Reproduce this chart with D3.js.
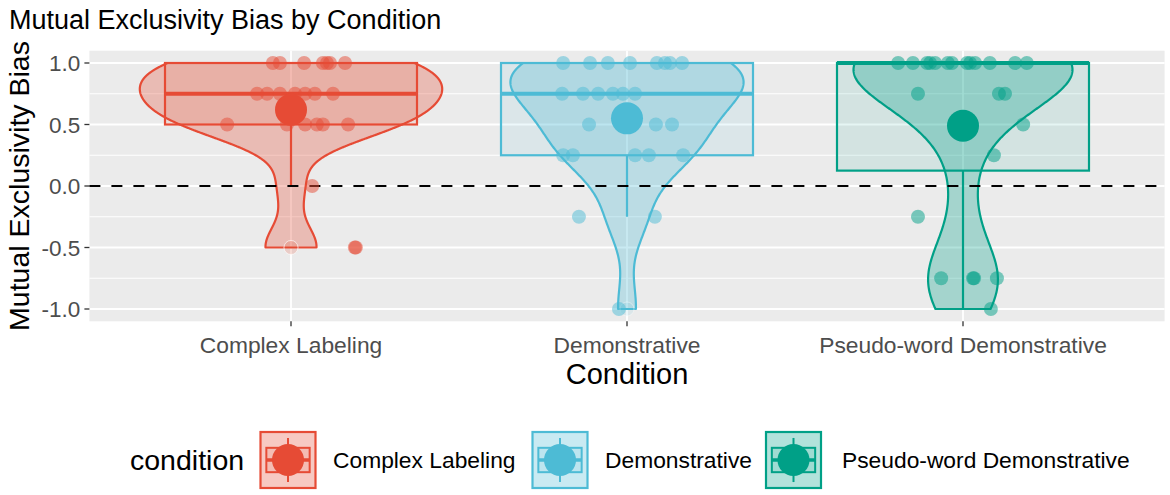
<!DOCTYPE html>
<html><head><meta charset="utf-8">
<script src="https://cdn.jsdelivr.net/npm/d3@7"></script>
<style>
body{margin:0;background:#fff}
svg{display:block}
text{font-family:"Liberation Sans",Arial,Helvetica,sans-serif}
</style>
</head><body>
<svg id="chart" width="1170" height="495"></svg>
<script>
// ---------- data ----------
const categories = ["Complex Labeling", "Demonstrative", "Pseudo-word Demonstrative"];
const colors = ["#E64B35", "#4DBBD5", "#00A087"];
const yTicks = [-1.0, -0.5, 0.0, 0.5, 1.0];
const yMinor = [-0.75, -0.25, 0.25, 0.75];

const complexValues = [1,1,1,1,1,1,1, 0.75,0.75,0.75,0.75,0.75,0.75,0.75, 0.5,0.5,0.5,0.5,0.5,0.5, 0, -0.5,-0.5];
const complexJitter = [-0.054,-0.033,0.039,0.095,0.107,0.116,0.161, -0.101,-0.071,-0.033,0.012,0.042,0.071,0.125, -0.190,-0.012,0.042,0.077,0.095,0.170, 0.063, 0.190,0.193];

const demoValues = [1,1,1,1,1,1,1,1, 0.75,0.75,0.75,0.75,0.75,0.75, 0.5,0.5,0.5, 0.25,0.25,0.25,0.25,0.25, -0.25,-0.25, -1];
const demoJitter = [-0.190,-0.110,-0.057,0.009,0.089,0.113,0.128,0.164, -0.193,-0.131,-0.086,-0.042,-0.012,0.024, -0.113,0.086,0.134, -0.190,-0.161,0.024,0.065,0.167, -0.143,0.083, -0.024];

const pseudoValues = [1,1,1,1,1,1,1,1,1,1,1,1,1, 0.75,0.75,0.75, 0.5, 0.25, -0.25, -0.75,-0.75,-0.75,-0.75, -1];
const pseudoJitter = [-0.193,-0.149,-0.107,-0.098,-0.083,-0.045,-0.033,0.012,0.021,0.036,0.080,0.155,0.190, -0.134,0.107,0.125, 0.179, 0.092, -0.134, -0.065,0.030,0.033,0.101, 0.083];

const groups = [
  {name: categories[0], values: complexValues, jitter: complexJitter, color: colors[0]},
  {name: categories[1], values: demoValues, jitter: demoJitter, color: colors[1]},
  {name: categories[2], values: pseudoValues, jitter: pseudoJitter, color: colors[2]}
];

// ---------- layout ----------
const panel = {left: 89.4, right: 1164.6, top: 50.7, bottom: 321.3};
const svg = d3.select("#chart");

const x = d3.scalePoint().domain(categories).range([panel.left, panel.right]).padding(0.6);
const step = x.step();
const y = d3.scaleLinear().domain([-1.1, 1.1]).range([panel.bottom, panel.top]);

// ---------- stats ----------
function bwNrd0(v) {
  const s = v.slice().sort(d3.ascending);
  const hi = d3.deviation(s);
  const iqr = d3.quantile(s, 0.75) - d3.quantile(s, 0.25);
  let lo = Math.min(hi, iqr / 1.34);
  if (!lo) lo = hi || Math.abs(s[0]) || 1;
  return 0.9 * lo * Math.pow(s.length, -0.2);
}
function kde(v, bw, grid) {
  const n = v.length, c = 1 / (Math.sqrt(2 * Math.PI) * bw * n);
  return grid.map(t => [t, c * d3.sum(v, d => Math.exp(-0.5 * ((t - d) / bw) ** 2))]);
}
groups.forEach(g => {
  const s = g.values.slice().sort(d3.ascending);
  g.q1 = d3.quantile(s, 0.25);
  g.med = d3.quantile(s, 0.5);
  g.q3 = d3.quantile(s, 0.75);
  const iqr = g.q3 - g.q1;
  const lf = g.q1 - 1.5 * iqr, uf = g.q3 + 1.5 * iqr;
  g.wlo = d3.min(s.filter(d => d >= lf));
  g.whi = d3.max(s.filter(d => d <= uf));
  g.outliers = s.filter(d => d < lf || d > uf);
  g.mean = d3.mean(s);
  const lo = s[0], hi = s[s.length - 1];
  const grid = d3.range(512).map(i => lo + (hi - lo) * i / 511);
  g.dens = kde(s, bwNrd0(s), grid);
});
const maxDens = d3.max(groups, g => d3.max(g.dens, d => d[1]));

// ---------- panel ----------
svg.append("rect").attr("x", panel.left).attr("y", panel.top)
  .attr("width", panel.right - panel.left).attr("height", panel.bottom - panel.top)
  .attr("fill", "#EBEBEB");
const grid = svg.append("g");
yMinor.forEach(v => grid.append("line").attr("x1", panel.left).attr("x2", panel.right)
  .attr("y1", y(v)).attr("y2", y(v)).attr("stroke", "#fff").attr("stroke-width", 1));
yTicks.forEach(v => grid.append("line").attr("x1", panel.left).attr("x2", panel.right)
  .attr("y1", y(v)).attr("y2", y(v)).attr("stroke", "#fff").attr("stroke-width", 1.8));
categories.forEach(c => grid.append("line").attr("x1", x(c)).attr("x2", x(c))
  .attr("y1", panel.top).attr("y2", panel.bottom).attr("stroke", "#fff").attr("stroke-width", 1.8));

// ---------- violins ----------
const halfMax = 0.45 * step;
groups.forEach(g => {
  const cx = x(g.name);
  const right = g.dens.map(d => [cx + d[1] / maxDens * halfMax, y(d[0])]);
  const left = g.dens.slice().reverse().map(d => [cx - d[1] / maxDens * halfMax, y(d[0])]);
  svg.append("path").attr("d", d3.line()(right.concat(left)) + "Z")
    .attr("fill", g.color).attr("fill-opacity", 0.3)
    .attr("stroke", g.color).attr("stroke-width", 2.2).attr("stroke-linejoin", "round");
});

// ---------- boxplots ----------
const boxHalf = 0.375 * step;
groups.forEach(g => {
  const cx = x(g.name);
  const b = svg.append("g");
  b.append("line").attr("x1", cx).attr("x2", cx).attr("y1", y(g.q3)).attr("y2", y(g.whi))
    .attr("stroke", g.color).attr("stroke-width", 2.2);
  b.append("line").attr("x1", cx).attr("x2", cx).attr("y1", y(g.q1)).attr("y2", y(g.wlo))
    .attr("stroke", g.color).attr("stroke-width", 2.2);
  b.append("rect").attr("x", cx - boxHalf).attr("width", 2 * boxHalf)
    .attr("y", y(g.q3)).attr("height", Math.max(0.01, y(g.q1) - y(g.q3)))
    .attr("fill", g.color).attr("fill-opacity", 0.1)
    .attr("stroke", g.color).attr("stroke-width", 2.2);
  b.append("line").attr("x1", cx - boxHalf).attr("x2", cx + boxHalf)
    .attr("y1", y(g.med)).attr("y2", y(g.med))
    .attr("stroke", g.color).attr("stroke-width", 4);
  g.outliers.forEach(o => b.append("circle").attr("cx", cx).attr("cy", y(o)).attr("r", 7)
    .attr("fill", g.color).attr("fill-opacity", 0.1)
    .attr("stroke", "#fff").attr("stroke-opacity", 0.5).attr("stroke-width", 0.8));
});

// ---------- reference line ----------
svg.append("line").attr("x1", panel.left).attr("x2", panel.right)
  .attr("y1", y(0)).attr("y2", y(0))
  .attr("stroke", "#000").attr("stroke-width", 2.2).attr("stroke-dasharray", "11,11");

// ---------- jittered points ----------
groups.forEach(g => {
  const cx = x(g.name);
  svg.append("g").selectAll("circle").data(g.values).join("circle")
    .attr("cx", (d, i) => cx + g.jitter[i] * step)
    .attr("cy", d => y(d))
    .attr("r", 7)
    .attr("fill", g.color).attr("fill-opacity", 0.5);
});

// ---------- mean points ----------
groups.forEach(g => {
  svg.append("circle").attr("cx", x(g.name)).attr("cy", y(g.mean)).attr("r", 16)
    .attr("fill", g.color);
});

// ---------- axes ----------
const yAxis = svg.append("g");
yTicks.forEach(v => {
  yAxis.append("line").attr("x1", panel.left - 5).attr("x2", panel.left)
    .attr("y1", y(v)).attr("y2", y(v)).attr("stroke", "#333").attr("stroke-width", 1.3);
  yAxis.append("text").attr("x", panel.left - 9).attr("y", y(v)).attr("dy", "0.36em")
    .attr("text-anchor", "end").attr("font-size", 22.5).attr("fill", "#4D4D4D")
    .text(d3.format(".1f")(v).replace("−", "-"));
});
const xAxis = svg.append("g");
categories.forEach(c => {
  xAxis.append("line").attr("x1", x(c)).attr("x2", x(c))
    .attr("y1", panel.bottom).attr("y2", panel.bottom + 5).attr("stroke", "#333").attr("stroke-width", 1.3);
  xAxis.append("text").attr("x", x(c)).attr("y", 353).attr("text-anchor", "middle")
    .attr("font-size", 22.8).attr("fill", "#4D4D4D").text(c);
});

svg.append("text").attr("x", x(categories[1])).attr("y", 384).attr("text-anchor", "middle")
  .attr("font-size", 29).attr("fill", "#000").text("Condition");
svg.append("text").attr("transform", `translate(29,${(panel.top + panel.bottom) / 2}) rotate(-90)`)
  .attr("text-anchor", "middle").attr("font-size", 28.5).attr("fill", "#000").text("Mutual Exclusivity Bias");
svg.append("text").attr("x", 9).attr("y", 29).attr("font-size", 27).attr("fill", "#000")
  .text("Mutual Exclusivity Bias by Condition");

// ---------- legend ----------
const legendY = 460;
svg.append("text").attr("x", 130).attr("y", legendY + 10).attr("font-size", 28.5).attr("fill", "#000").text("condition");
const keyX = [259.5, 531.5, 765];
const labelX = [333, 605, 842];
groups.forEach((g, i) => {
  const k = svg.append("g").attr("transform", `translate(${keyX[i]},${legendY - 29})`);
  const kw = 57, kh = 58;
  k.append("rect").attr("width", kw).attr("height", kh).attr("fill", "#fff");
  k.append("rect").attr("x", 1).attr("y", 1).attr("width", kw - 2).attr("height", kh - 2)
    .attr("fill", g.color).attr("fill-opacity", 0.3).attr("stroke", g.color).attr("stroke-width", 2.2);
  const bx0 = kw * 0.12, bx1 = kw * 0.88, by0 = kh * 0.29, by1 = kh * 0.71;
  k.append("line").attr("x1", kw / 2).attr("x2", kw / 2).attr("y1", kh * 0.12).attr("y2", by0)
    .attr("stroke", g.color).attr("stroke-width", 2);
  k.append("line").attr("x1", kw / 2).attr("x2", kw / 2).attr("y1", by1).attr("y2", kh * 0.88)
    .attr("stroke", g.color).attr("stroke-width", 2);
  k.append("rect").attr("x", bx0).attr("y", by0).attr("width", bx1 - bx0).attr("height", by1 - by0)
    .attr("fill", g.color).attr("fill-opacity", 0.1).attr("stroke", g.color).attr("stroke-width", 2);
  k.append("line").attr("x1", bx0).attr("x2", bx1).attr("y1", kh / 2).attr("y2", kh / 2)
    .attr("stroke", g.color).attr("stroke-width", 3.4);
  k.append("circle").attr("cx", kw / 2).attr("cy", kh / 2).attr("r", 16).attr("fill", g.color);
  svg.append("text").attr("x", labelX[i]).attr("y", legendY + 8).attr("font-size", 22.8)
    .attr("fill", "#000").text(g.name);
});
</script>
</body></html>
